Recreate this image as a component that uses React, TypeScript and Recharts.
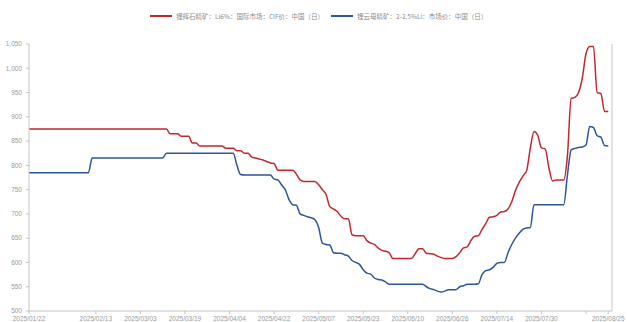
import React from 'react';
import { LineChart, Line, XAxis, YAxis, ReferenceLine } from 'recharts';

// Trading-day calendar (MM/DD), 2025
const dates: string[] = [
  // Jan
  '01/22', '01/23', '01/24', '01/26', '01/27', '01/28', '01/29', '01/30', '01/31',
  // Feb
  '02/03', '02/04', '02/05', '02/06', '02/07', '02/08', '02/10', '02/11', '02/12', '02/13',
  '02/14', '02/17', '02/18', '02/19', '02/20', '02/21', '02/24', '02/25', '02/26', '02/27', '02/28',
  // Mar
  '03/03', '03/04', '03/05', '03/06', '03/07', '03/10', '03/11', '03/12', '03/13', '03/14',
  '03/17', '03/18', '03/19', '03/20', '03/21', '03/24', '03/25', '03/26', '03/27', '03/28', '03/31',
  // Apr
  '04/01', '04/02', '04/03', '04/04', '04/07', '04/08', '04/09', '04/10', '04/11', '04/14',
  '04/15', '04/16', '04/17', '04/18', '04/21', '04/22', '04/23', '04/24', '04/25', '04/27',
  '04/28', '04/29', '04/30',
  // May
  '05/01', '05/02', '05/05', '05/06', '05/07', '05/08', '05/09', '05/12', '05/13', '05/14',
  '05/15', '05/16', '05/19', '05/20', '05/21', '05/22', '05/23', '05/26', '05/27', '05/28',
  '05/29', '05/30',
  // Jun
  '06/02', '06/03', '06/04', '06/05', '06/06', '06/09', '06/10', '06/11', '06/12', '06/13',
  '06/16', '06/17', '06/18', '06/19', '06/20', '06/23', '06/24', '06/25', '06/26', '06/27', '06/30',
  // Jul
  '07/01', '07/02', '07/03', '07/04', '07/07', '07/08', '07/09', '07/10', '07/11', '07/14',
  '07/15', '07/16', '07/17', '07/18', '07/21', '07/22', '07/23', '07/24', '07/25', '07/28',
  '07/29', '07/30', '07/31',
  // Aug
  '08/01', '08/04', '08/05', '08/06', '08/07', '08/08', '08/11', '08/12', '08/13', '08/14',
  '08/15', '08/18', '08/19', '08/20', '08/21', '08/22', '08/25',
];

// 锂辉石精矿 Li6% CIF 中国
const spodumene: number[] = [
  // Jan
  875, 875, 875, 875, 875, 875, 875, 875, 875,
  // Feb
  875, 875, 875, 875, 875, 875, 875, 875, 875, 875,
  875, 875, 875, 875, 875, 875, 875, 875, 875, 875, 875,
  // Mar
  875, 875, 875, 875, 875, 875, 875, 875, 865, 865,
  865, 860, 860, 860, 846, 846, 840, 840, 840, 840, 840,
  // Apr
  840, 840, 835, 835, 835, 830, 830, 825, 825, 817,
  815, 813, 811, 808, 805, 804, 790, 790, 790, 790,
  790, 782, 770,
  // May
  767, 767, 767, 767, 760, 750, 740, 715, 710, 705,
  695, 690, 690, 657, 655, 655, 655, 645, 640, 637,
  630, 625,
  // Jun
  623, 620, 608, 608, 608, 608, 608, 608, 618, 628,
  628, 619, 618, 617, 613, 610, 608, 608, 608, 612, 620,
  // Jul
  630, 632, 645, 654, 655, 668, 680, 693, 694, 697,
  704, 705, 710, 725, 748, 765, 778, 789, 835, 870,
  862, 836, 834,
  // Aug
  795, 768, 770, 770, 770, 820, 938, 940, 950, 980,
  1030, 1045, 1045, 950, 948, 911, 911,
];

// 锂云母精矿 2-2.5%Li 市场价 中国
const lepidolite: number[] = [
  // Jan
  785, 785, 785, 785, 785, 785, 785, 785, 785,
  // Feb
  785, 785, 785, 785, 785, 785, 785, 785, 815, 815,
  815, 815, 815, 815, 815, 815, 815, 815, 815, 815, 815,
  // Mar
  815, 815, 815, 815, 815, 815, 815, 825, 825, 825,
  825, 825, 825, 825, 825, 825, 825, 825, 825, 825, 825,
  // Apr
  825, 825, 825, 825, 825, 800, 781, 780, 780, 780,
  780, 780, 780, 780, 780, 772, 770, 760, 750, 730,
  719, 718, 700,
  // May
  697, 694, 692, 688, 672, 640, 637, 636, 620, 619,
  619, 616, 613, 604, 600, 596, 585, 578, 576, 568,
  565, 564,
  // Jun
  560, 555, 555, 555, 555, 555, 555, 555, 555, 555,
  555, 550, 546, 544, 541, 539, 541, 544, 544, 544, 550,
  // Jul
  552, 555, 555, 555, 556, 575, 583, 585, 590, 598,
  600, 600, 620, 637, 650, 660, 668, 671, 672, 719,
  719, 719, 719,
  // Aug
  719, 719, 719, 719, 719, 780, 832, 835, 837, 838,
  842, 880, 878, 861, 858, 841, 840,
];

const seriesNames = [
  '锂辉石精矿：Li6%：国际市场：CIF价：中国（日）',
  '锂云母精矿：2-2.5%Li：市场价：中国（日）',
];
const seriesColors = ['#C1272D', '#2D5597'];

const xTickIndex = [0, 18, 30, 42, 54, 66, 78, 90, 102, 114, 126, 138, 150, 156];
const xTickHidden = [150];
const yTicks = [500, 550, 600, 650, 700, 750, 800, 850, 900, 950, 1000, 1050];

const rows = dates.map((d, i) => ({
  i,
  date: '2025/' + d,
  a: spodumene[i],
  b: lepidolite[i],
}));

const CJK_FONT = '"Noto Sans CJK SC", "Noto Sans", sans-serif';
const NUM_FONT = '"Liberation Sans", "DejaVu Sans", sans-serif';
const AXIS = '#c4c4c4';
const TEXT = '#9a9a9a';

function LegendBar() {
  return (
    <div
      style={{
        position: 'absolute',
        top: 11,
        left: 150,
        display: 'flex',
        alignItems: 'center',
        fontFamily: CJK_FONT,
        fontSize: 6.5,
        color: '#8c8c8c',
        whiteSpace: 'nowrap',
        lineHeight: '10px',
      }}
    >
      {seriesNames.map((name, k) => (
        <div key={name} style={{ display: 'flex', alignItems: 'center', marginRight: 7 }}>
          <span
            style={{
              display: 'inline-block',
              width: 22,
              height: 2,
              background: seriesColors[k],
              marginRight: 4,
            }}
          />
          <span>{name}</span>
        </div>
      ))}
    </div>
  );
}

export default function App() {
  return (
    <div
      style={{
        position: 'absolute',
        left: 0,
        top: 0,
        width: 627,
        height: 322,
        background: '#ffffff',
        overflow: 'hidden',
      }}
    >
      <LegendBar />
      <LineChart
        width={627}
        height={322}
        data={rows}
        margin={{ top: 44, right: 15, bottom: 0, left: 0 }}
      >
        <XAxis
          dataKey="i"
          type="number"
          domain={[0, 157]}
          ticks={xTickIndex}
          interval={0}
          height={11}
          tickSize={3}
          tickMargin={2}
          stroke={AXIS}
          tick={{ fontSize: 6.5, fill: TEXT, fontFamily: NUM_FONT }}
          tickFormatter={(v: number) => (xTickHidden.includes(v) ? '' : rows[v].date)}
          allowDecimals={false}
        />
        <YAxis
          type="number"
          domain={[500, 1050]}
          ticks={yTicks}
          interval={0}
          width={29}
          tickSize={3}
          tickMargin={4}
          stroke={AXIS}
          tick={{ fontSize: 6.5, fill: TEXT, fontFamily: NUM_FONT }}
          tickFormatter={(v: number) => v.toLocaleString('en-US')}
        />
        <ReferenceLine x={157} stroke={AXIS} strokeWidth={1} />
        <Line
          type="monotone"
          dataKey="a"
          name={seriesNames[0]}
          stroke={seriesColors[0]}
          strokeWidth={1.5}
          dot={false}
          activeDot={false}
          isAnimationActive={false}
        />
        <Line
          type="monotone"
          dataKey="b"
          name={seriesNames[1]}
          stroke={seriesColors[1]}
          strokeWidth={1.5}
          dot={false}
          activeDot={false}
          isAnimationActive={false}
        />
      </LineChart>
    </div>
  );
}
